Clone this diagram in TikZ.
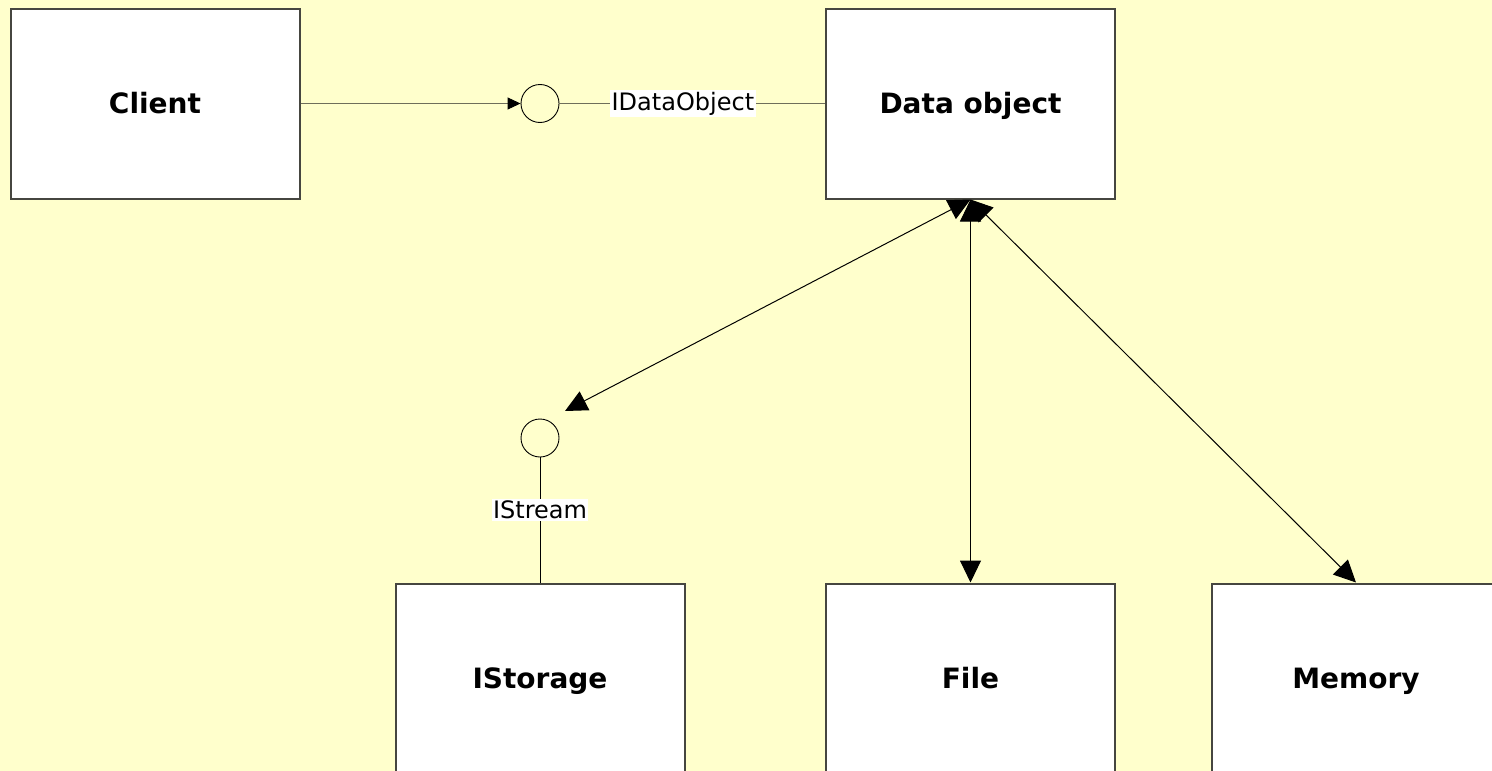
\documentclass[tikz,border=0pt]{standalone}
\usepackage{fontspec}
\setmainfont{DejaVu Sans}
\usetikzlibrary{arrows.meta}
\definecolor{bg}{RGB}{255,255,204}
\definecolor{edge}{RGB}{70,70,64}
\definecolor{olive}{RGB}{110,110,90}
\tikzset{
  box/.style={draw=edge, line width=2pt, fill=white, minimum width=289pt, minimum height=190pt, inner sep=0pt, text height=20pt, text depth=0pt, font=\fontsize{28}{32}\selectfont\bfseries},
  lollipop/.style={draw=black, line width=0.9pt, circle, minimum size=38pt, inner sep=0pt},
  lbl/.style={fill=white, inner sep=1.5pt, font=\fontsize{24}{28}\selectfont},
  conn/.style={line width=1pt},
  bigarrow/.style={conn, {Triangle[length=22pt,width=21pt]}-{Triangle[length=22pt,width=21pt]}},
  smallarrow/.style={conn, -{Triangle[length=13pt,width=12pt,color=black]}}
}
\begin{document}
\begin{tikzpicture}[x=1pt,y=-1pt]
\useasboundingbox (0,0) rectangle (1492,771);
\clip (0,0) rectangle (1492,771);
\fill[bg] (0,0) rectangle (1492,771);
\node[box] (client) at (155,103.5) {Client};
\node[box] (data) at (970.5,103.5) {Data object};
\node[box] (istorage) at (540,678.5) {IStorage};
\node[box] (file) at (970.5,678.5) {File};
\node[box] (memory) at (1356,678.5) {Memory};
\node[lollipop] (c1) at (540,103.5) {};
\node[lollipop] (c2) at (540,438) {};
\coordinate (stend) at (565,411);
\draw[smallarrow, draw=olive] (client.east) -- (c1.west);
\draw[conn, draw=olive] (c1.east) -- node[lbl, pos=0.465] (ido) {IDataObject} (data.west);
\draw[conn] (c2.south) -- node[lbl, pos=0.42] (ist) {IStream} (istorage.north);
\draw[bigarrow] (stend) -- (data.south);
\draw[bigarrow] (data.south) -- (file.north);
\draw[bigarrow] (data.south) -- (memory.north);
\end{tikzpicture}
\end{document}
